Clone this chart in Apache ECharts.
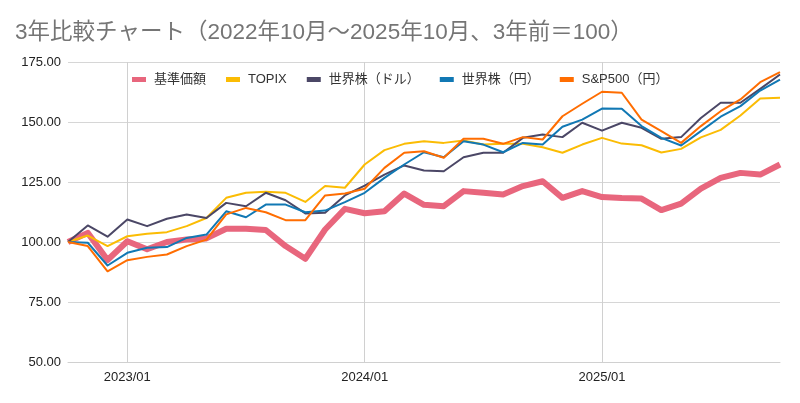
<!DOCTYPE html>
<html>
<head>
<meta charset="utf-8">
<script src="https://cdn.jsdelivr.net/npm/echarts@6/dist/echarts.min.js"></script>
<style>
html,body{margin:0;padding:0;background:#fff;}
#chart{width:800px;height:403px;}
</style>
</head>
<body>
<div id="chart"></div>
<script>
const months = [
  "2022/10","2022/11","2022/12",
  "2023/01","2023/02","2023/03","2023/04","2023/05","2023/06","2023/07","2023/08","2023/09","2023/10","2023/11","2023/12",
  "2024/01","2024/02","2024/03","2024/04","2024/05","2024/06","2024/07","2024/08","2024/09","2024/10","2024/11","2024/12",
  "2025/01","2025/02","2025/03","2025/04","2025/05","2025/06","2025/07","2025/08","2025/09","2025/10"
];
const kijunKagaku = [100, 103.8, 92.5, 100.3, 97, 100, 101, 101.5, 105.5, 105.5, 105, 98.3, 93, 105.2, 113.8, 112, 112.8, 120.2, 115.5, 114.9, 121.2, 120.5, 119.8, 123.3, 125.3, 118.4, 121.2, 118.7, 118.3, 118.1, 113.3, 116, 122.2, 126.7, 128.8, 128.1, 132.3];
const topix = [100, 102.7, 98.3, 102.4, 103.4, 104.1, 106.6, 110, 118.4, 120.5, 120.9, 120.5, 116.7, 123.3, 122.6, 132.3, 138.3, 140.9, 142, 141.3, 142.3, 140.6, 140.9, 140.9, 139.5, 137.2, 140.6, 143.4, 141, 140.3, 137.3, 138.8, 143.6, 146.7, 152.7, 159.8, 160.1];
const sekaiDollar = [100, 106.9, 102.2, 109.4, 106.6, 109.7, 111.5, 110, 116.3, 114.9, 120.5, 117.4, 111.9, 112.2, 119.4, 123.5, 128.1, 131.9, 129.8, 129.5, 135.3, 137.2, 137.2, 143.4, 144.8, 143.7, 149.7, 146.4, 149.7, 147.6, 143, 143.7, 151.7, 158, 158, 163.8, 169.8];
const sekaiYen = [100, 99.7, 90.2, 95.5, 97.6, 97.9, 101.7, 103.1, 112.8, 110.3, 115.6, 115.6, 112.4, 113.1, 116.6, 120.5, 126.7, 132.3, 137.4, 135.3, 142, 140.6, 137.4, 141.3, 140.6, 148, 151, 155.6, 155.5, 148.3, 143.4, 140.2, 146.2, 152.2, 156.6, 163.1, 167.7];
const sp500Yen = [100, 98.3, 87.8, 92.4, 93.8, 94.8, 98.3, 101, 111.5, 114.2, 112.4, 109.1, 109.1, 119.4, 120.2, 122.2, 130.9, 137.2, 137.8, 135.1, 143, 143, 140.9, 143.7, 142.7, 152.4, 157.6, 162.6, 162.2, 151, 146.2, 141.3, 148.3, 154.5, 159.4, 166.6, 170.8];
const seriesNames = ["基準価額", "TOPIX", "世界株（ドル）", "世界株（円）", "S&P500（円）"];
const yTicks = { min: 50, max: 175, interval: 25 };

const colors = ["#E8667D", "#FBBC04", "#4B4766", "#1178B4", "#FF6D01"];
const widths = [6, 2, 2, 2, 2];
const dataSets = [kijunKagaku, topix, sekaiDollar, sekaiYen, sp500Yen];
const FONT = "'Liberation Sans', Arial, 'Noto Sans CJK JP', sans-serif";

const isJan = (idx, val) => /\/01$/.test(val);

const chart = echarts.init(document.getElementById('chart'), null, {renderer: 'canvas'});
chart.setOption({
  animation: false,
  backgroundColor: '#fff',
  title: {
    text: "3年比較チャート（2022年10月～2025年10月、3年前＝100）",
    left: 10, top: 17,
    textStyle: {fontSize: 22.5, fontWeight: 'normal', color: '#757575', fontFamily: FONT}
  },
  legend: {
    left: 127, top: 68,
    itemWidth: 14, itemHeight: 5, itemGap: 20,
    icon: 'rect',
    textStyle: {fontSize: 13, color: '#333', fontFamily: FONT, padding: [0,0,0,3]},
    data: seriesNames
  },
  grid: {left: 68, right: 20, top: 62, bottom: 41, containLabel: false},
  xAxis: {
    type: 'category',
    boundaryGap: false,
    data: months,
    axisLine: {show: true, lineStyle: {color: '#d0d0d0'}},
    axisTick: {show: false},
    axisLabel: {interval: isJan, color: '#222', fontSize: 13, margin: 9, fontFamily: FONT},
    splitLine: {show: true, interval: isJan, lineStyle: {color: '#d0d0d0', width: 1}}
  },
  yAxis: {
    type: 'value',
    min: yTicks.min, max: yTicks.max, interval: yTicks.interval,
    axisLine: {show: false},
    axisTick: {show: false},
    axisLabel: {formatter: v => v.toFixed(2), color: '#222', fontSize: 13, margin: 7, fontFamily: FONT},
    splitLine: {lineStyle: {color: '#d6d6d6', width: 1}}
  },
  series: seriesNames.map((n, i) => ({
    name: n,
    type: 'line',
    data: dataSets[i],
    showSymbol: false,
    symbol: 'none',
    z: i === 0 ? 1 : 2 + i,
    lineStyle: {color: colors[i], width: widths[i], join: 'round'},
    itemStyle: {color: colors[i]}
  }))
});
</script>
</body>
</html>
